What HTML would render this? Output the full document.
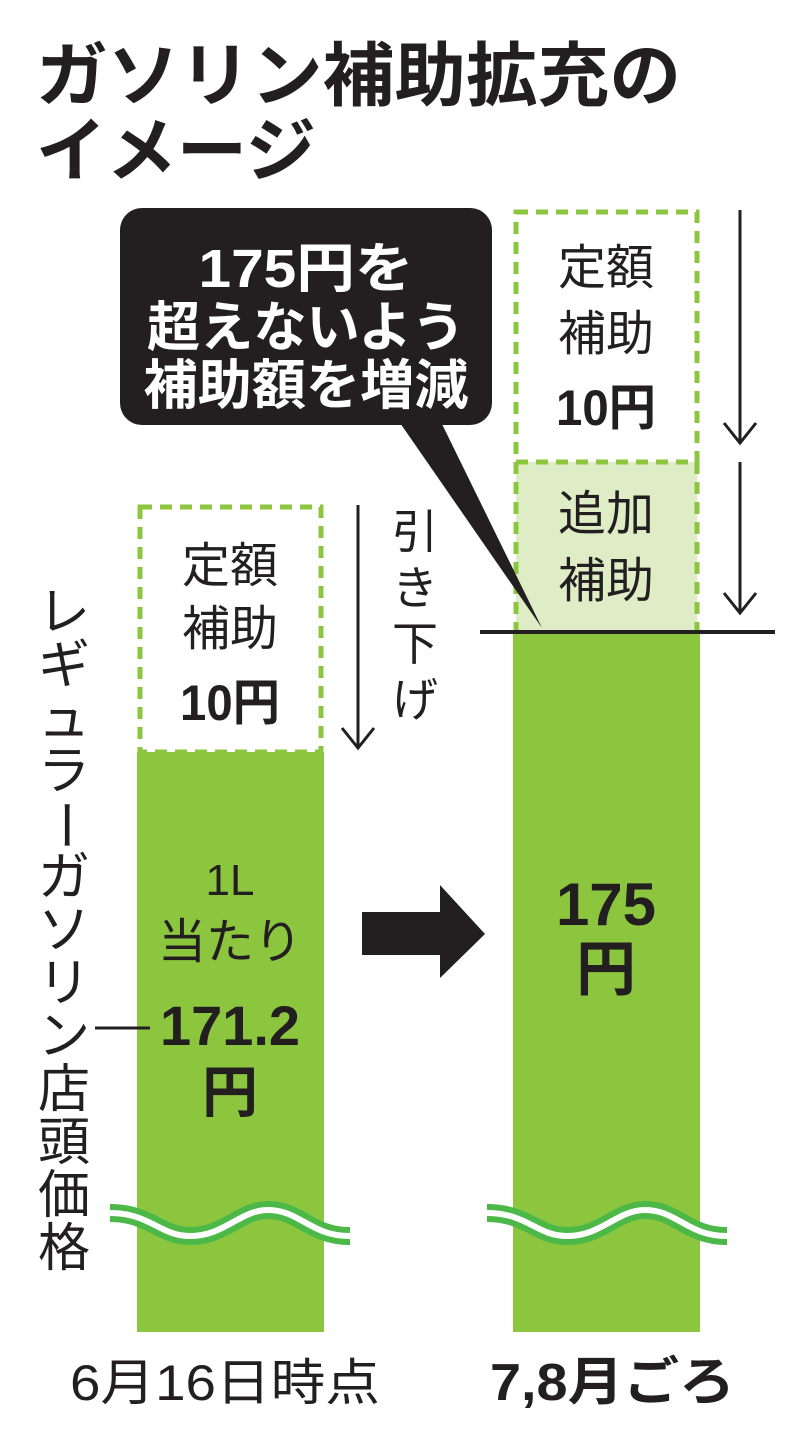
<!DOCTYPE html>
<html><head><meta charset="utf-8"><style>
html,body{margin:0;padding:0;background:#fff;}
svg{display:block;}
text{font-family:"Liberation Sans","Noto Sans CJK JP",sans-serif;fill:#231f20;}
</style></head><body>
<svg width="800" height="1433" viewBox="0 0 800 1433" xmlns="http://www.w3.org/2000/svg">
<!-- title -->
<text x="36" y="100" font-size="70" font-weight="bold" textLength="645" lengthAdjust="spacingAndGlyphs">ガソリン補助拡充の</text>
<text x="36" y="175" font-size="70" font-weight="bold" textLength="280" lengthAdjust="spacingAndGlyphs">イメージ</text>

<!-- left bar -->
<rect x="137" y="752" width="187" height="580" fill="#8cc63f"/>
<rect x="140" y="507" width="181" height="245" fill="#fff" stroke="#8cc63f" stroke-width="5" stroke-dasharray="12,8"/>
<text x="230" y="582" font-size="48" text-anchor="middle">定額</text>
<text x="230" y="645" font-size="48" text-anchor="middle">補助</text>
<text x="230" y="720" font-size="50" font-weight="bold" text-anchor="middle" textLength="100" lengthAdjust="spacingAndGlyphs">10円</text>
<text x="230" y="895" font-size="44" text-anchor="middle">1L</text>
<text x="230" y="958" font-size="48" text-anchor="middle">当たり</text>
<text x="230" y="1045" font-size="56" font-weight="bold" text-anchor="middle" textLength="140" lengthAdjust="spacingAndGlyphs">171.2</text>
<text x="230" y="1112" font-size="56" font-weight="bold" text-anchor="middle">円</text>
<line x1="95" y1="1028" x2="150" y2="1028" stroke="#231f20" stroke-width="3"/>

<!-- left arrow -->
<line x1="358" y1="505" x2="358" y2="748" stroke="#231f20" stroke-width="3"/>
<polyline points="342,728 358,748 374,728" fill="none" stroke="#231f20" stroke-width="3"/>
<g font-size="46">
<text x="415" y="548" text-anchor="middle">引</text>
<text x="415" y="604" text-anchor="middle">き</text>
<text x="415" y="660" text-anchor="middle">下</text>
<text x="415" y="716" text-anchor="middle">げ</text>
</g>

<!-- vertical left label -->
<g font-size="52" text-anchor="middle">
<text x="64" y="630">レ</text>
<text x="64" y="683">ギ</text>
<text x="64" y="736">ュ</text>
<text x="64" y="789">ラ</text>
<text x="64" y="842" transform="rotate(90 64 825)">ー</text>
<text x="64" y="895">ガ</text>
<text x="64" y="948">ソ</text>
<text x="64" y="1001">リ</text>
<text x="64" y="1054">ン</text>
<text x="64" y="1107">店</text>
<text x="64" y="1160">頭</text>
<text x="64" y="1213">価</text>
<text x="64" y="1266">格</text>
</g>

<!-- big arrow -->
<polygon points="362,912 440,912 440,885 485,934 440,978 440,955 362,955" fill="#231f20"/>

<!-- right bar -->
<rect x="513" y="632" width="187" height="700" fill="#8cc63f"/>
<rect x="516" y="462" width="181" height="170" fill="#dfedc6"/>
<rect x="516" y="212" width="181" height="250" fill="#fff" stroke="#8cc63f" stroke-width="5" stroke-dasharray="12,8"/>
<line x1="516" y1="462" x2="516" y2="632" stroke="#8cc63f" stroke-width="5" stroke-dasharray="12,8"/>
<line x1="697" y1="462" x2="697" y2="632" stroke="#8cc63f" stroke-width="5" stroke-dasharray="12,8"/>
<text x="606" y="284" font-size="48" text-anchor="middle">定額</text>
<text x="606" y="350" font-size="48" text-anchor="middle">補助</text>
<text x="606" y="425" font-size="50" font-weight="bold" text-anchor="middle" textLength="100" lengthAdjust="spacingAndGlyphs">10円</text>
<text x="606" y="530" font-size="48" text-anchor="middle">追加</text>
<text x="606" y="597" font-size="48" text-anchor="middle">補助</text>
<text x="606" y="925" font-size="60" font-weight="bold" text-anchor="middle">175</text>
<text x="606" y="990" font-size="60" font-weight="bold" text-anchor="middle">円</text>

<!-- right arrows and line -->
<line x1="740" y1="210" x2="740" y2="443" stroke="#231f20" stroke-width="3"/>
<polyline points="724,423 740,443 756,423" fill="none" stroke="#231f20" stroke-width="3"/>
<line x1="740" y1="462" x2="740" y2="613" stroke="#231f20" stroke-width="3"/>
<polyline points="724,593 740,613 756,593" fill="none" stroke="#231f20" stroke-width="3"/>
<line x1="480" y1="632" x2="775" y2="632" stroke="#231f20" stroke-width="4"/>

<!-- callout -->
<rect x="120" y="208" width="372" height="217" rx="22" fill="#231f20"/>
<polygon points="398,420 440,420 542,628" fill="#231f20"/>
<text x="306" y="287" font-size="54" font-weight="bold" text-anchor="middle" style="fill:#fff" textLength="215" lengthAdjust="spacingAndGlyphs">175円を</text>
<text x="306" y="346" font-size="54" font-weight="bold" text-anchor="middle" style="fill:#fff" textLength="318" lengthAdjust="spacingAndGlyphs">超えないよう</text>
<text x="306" y="404" font-size="54" font-weight="bold" text-anchor="middle" style="fill:#fff" textLength="325" lengthAdjust="spacingAndGlyphs">補助額を増減</text>

<!-- waves -->
<g fill="none" stroke-linecap="butt">
<path d="M110,1213 C150,1213 160,1236 190,1236 C225,1236 240,1210 268,1210 C300,1210 310,1236 350,1236" stroke="#4cb848" stroke-width="18"/>
<path d="M110,1213 C150,1213 160,1236 190,1236 C225,1236 240,1210 268,1210 C300,1210 310,1236 350,1236" stroke="#fff" stroke-width="6"/>
<path d="M487,1213 C527,1213 537,1236 567,1236 C602,1236 617,1210 645,1210 C677,1210 687,1236 727,1236" stroke="#4cb848" stroke-width="18"/>
<path d="M487,1213 C527,1213 537,1236 567,1236 C602,1236 617,1210 645,1210 C677,1210 687,1236 727,1236" stroke="#fff" stroke-width="6"/>
</g>

<!-- bottom labels -->
<text x="70" y="1400" font-size="50" textLength="310" lengthAdjust="spacingAndGlyphs">6月16日時点</text>
<text x="490" y="1400" font-size="52" font-weight="bold" textLength="245" lengthAdjust="spacingAndGlyphs">7,8月ごろ</text>
</svg>
</body></html>
